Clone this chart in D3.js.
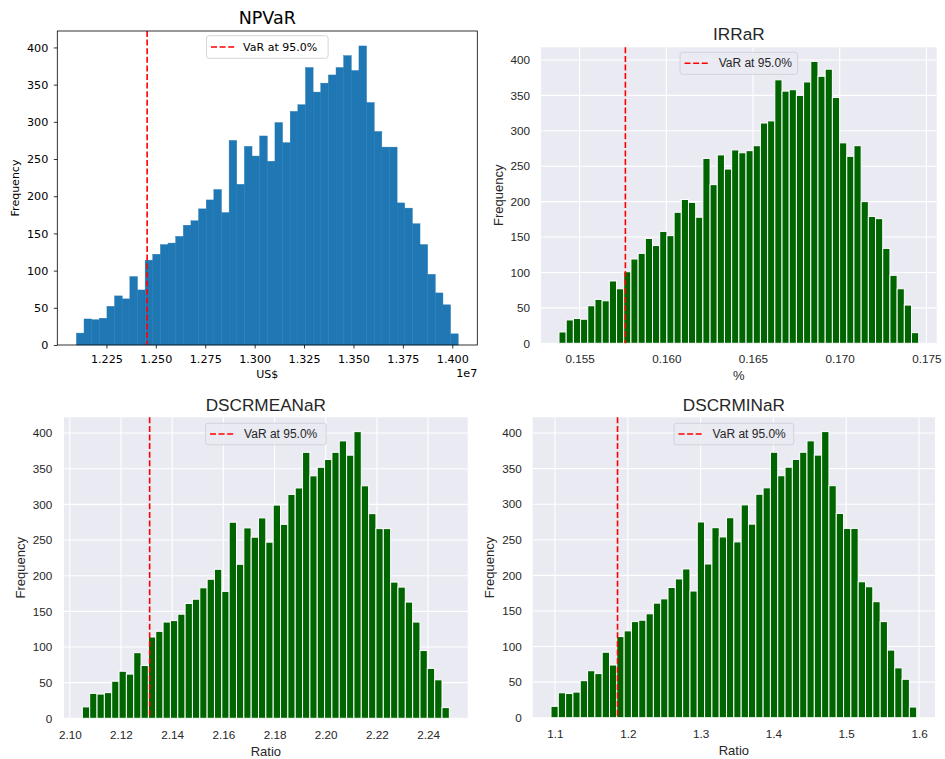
<!DOCTYPE html>
<html>
<head>
<meta charset="utf-8">
<script src="https://cdn.jsdelivr.net/npm/d3@7"></script>
<style>
  html, body { margin: 0; padding: 0; background: #ffffff; }
  svg { display: block; }
</style>
</head>
<body>
<svg id="chart" width="945" height="759"></svg>
<script>
// ---- Simulation histogram counts (50 bins each) ----
const npvCounts = [16, 35, 34, 36, 52, 66, 62, 92, 74, 114, 122, 135, 137, 146, 161, 167, 183, 195, 209, 178,
                   275, 216, 267, 254, 281, 247, 299, 272, 314, 323, 373, 340, 352, 363, 373, 389, 369, 402, 326, 287,
                   266, 266, 191, 184, 163, 135, 95, 70, 54, 15];
const irrCounts = [16, 33, 35, 34, 53, 62, 60, 88, 77, 101, 119, 127, 148, 138, 158, 152, 185, 203, 199, 178,
                   261, 224, 266, 246, 273, 269, 272, 279, 311, 314, 372, 356, 358, 350, 369, 398, 377, 387, 347, 283,
                   264, 279, 200, 179, 176, 134, 96, 77, 54, 15];
// DSCR outcomes are driven by the same draws as NPV, so the bin counts coincide
const dscrMeanCounts = npvCounts;
const dscrMinCounts = npvCounts;

// ---- Bin ranges (min, max of the simulated outcomes) ----
const npvRange = [1.2098e7, 1.4030e7];
const irrRange = [0.15381, 0.17456];
const dscrMeanRange = [2.1049, 2.2483];
const dscrMinRange = [1.0945, 1.5968];

// ---- Value at Risk (5th percentile) ----
const npvVaR = 1.2456e7;
const irrVaR = 0.15764;
const dscrMeanVaR = 2.1312;
const dscrMinVaR = 1.1859;

// ---- Tick values and labels ----
const npvTicks = [1.225e7, 1.250e7, 1.275e7, 1.300e7, 1.325e7, 1.350e7, 1.375e7, 1.400e7];
const npvTickLabels = ["1.225", "1.250", "1.275", "1.300", "1.325", "1.350", "1.375", "1.400"];
const irrTicks = [0.155, 0.160, 0.165, 0.170, 0.175];
const irrTickLabels = ["0.155", "0.160", "0.165", "0.170", "0.175"];
const dscrMeanTicks = [2.10, 2.12, 2.14, 2.16, 2.18, 2.20, 2.22, 2.24];
const dscrMeanTickLabels = ["2.10", "2.12", "2.14", "2.16", "2.18", "2.20", "2.22", "2.24"];
const dscrMinTicks = [1.1, 1.2, 1.3, 1.4, 1.5, 1.6];
const dscrMinTickLabels = ["1.1", "1.2", "1.3", "1.4", "1.5", "1.6"];
const freqTicks = [0, 50, 100, 150, 200, 250, 300, 350, 400];

const legendLabel = "VaR at 95.0%";

const svg = d3.select("#chart");

function drawPanel(p) {
  const g = svg.append("g");
  const n = p.counts.length;
  const [lo, hi] = p.range;
  const binW = (hi - lo) / n;
  const bins = p.counts.map((c, i) => ({ x0: lo + i * binW, x1: lo + (i + 1) * binW, c }));
  const pad = (hi - lo) * 0.05;
  const x = d3.scaleLinear().domain([lo - pad, hi + pad]).range([p.left, p.right]);
  const y = d3.scaleLinear().domain([0, d3.max(p.counts) * 1.05]).range([p.bottom, p.top]);
  const sea = p.style === "seaborn";
  const font = sea ? "'Liberation Sans', Arial, sans-serif" : "'DejaVu Sans', sans-serif";
  const textCol = sea ? "#262626" : "#000000";

  // plot background
  g.append("rect")
    .attr("x", p.left).attr("y", p.top)
    .attr("width", p.right - p.left).attr("height", p.bottom - p.top)
    .attr("fill", sea ? "#eaeaf2" : "#ffffff");

  if (sea) {
    // white grid behind bars
    const grid = g.append("g").attr("stroke", "#ffffff").attr("stroke-width", 1.1);
    p.ticks.forEach(t => grid.append("line")
      .attr("x1", x(t)).attr("x2", x(t)).attr("y1", p.top).attr("y2", p.bottom));
    freqTicks.forEach(t => grid.append("line")
      .attr("x1", p.left).attr("x2", p.right).attr("y1", y(t)).attr("y2", y(t)));
  }

  // histogram bars
  g.append("g").selectAll("rect").data(bins).join("rect")
    .attr("x", d => x(d.x0))
    .attr("width", d => x(d.x1) - x(d.x0))
    .attr("y", d => y(d.c))
    .attr("height", d => y(0) - y(d.c))
    .attr("fill", sea ? "#006400" : "#1f77b4")
    .attr("stroke", sea ? "#ffffff" : "#1f77b4")
    .attr("stroke-width", sea ? 1 : 0.4);

  // VaR marker
  g.append("line")
    .attr("x1", x(p.var)).attr("x2", x(p.var))
    .attr("y1", p.top).attr("y2", p.bottom)
    .attr("stroke", "#ff0000").attr("stroke-width", 1.6)
    .attr("stroke-dasharray", "6,2.6");

  // axes
  const xAxis = d3.axisBottom(x)
    .tickValues(p.ticks)
    .tickFormat((d, i) => p.tickLabels[i])
    .tickSizeOuter(0)
    .tickSize(sea ? 0 : 3.5)
    .tickPadding(sea ? p.xPad : 6.8);
  const yAxis = d3.axisLeft(y)
    .tickValues(freqTicks)
    .tickFormat(d3.format("d"))
    .tickSizeOuter(0)
    .tickSize(sea ? 0 : 3.5)
    .tickPadding(sea ? p.yPad : 5.5);

  const gx = g.append("g").attr("transform", `translate(0,${p.bottom})`).call(xAxis);
  const gy = g.append("g").attr("transform", `translate(${p.left},0)`).call(yAxis);
  [gx, gy].forEach(a => {
    a.select(".domain").remove();
    a.selectAll("text").attr("font-family", font).attr("font-size", p.tickFont).attr("fill", textCol);
    a.selectAll("line").attr("stroke", "#000000").attr("stroke-width", 0.8);
  });

  if (!sea) {
    // frame
    g.append("rect")
      .attr("x", p.left).attr("y", p.top)
      .attr("width", p.right - p.left).attr("height", p.bottom - p.top)
      .attr("fill", "none").attr("stroke", "#000000").attr("stroke-width", 0.8);
  }

  // title
  g.append("text")
    .attr("x", (p.left + p.right) / 2).attr("y", p.titleY)
    .attr("text-anchor", "middle")
    .attr("font-family", font).attr("font-size", p.titleFont)
    .attr("fill", textCol)
    .text(p.title);

  // axis labels
  g.append("text")
    .attr("x", (p.left + p.right) / 2).attr("y", p.xLabelY)
    .attr("text-anchor", "middle")
    .attr("font-family", font).attr("font-size", p.labelFont)
    .attr("fill", textCol)
    .text(p.xLabel);
  g.append("text")
    .attr("transform", `translate(${p.yLabelX},${(p.top + p.bottom) / 2}) rotate(-90)`)
    .attr("text-anchor", "middle")
    .attr("dy", "0.35em")
    .attr("font-family", font).attr("font-size", p.labelFont)
    .attr("fill", textCol)
    .text("Frequency");

  if (p.offsetText) {
    // axis offset multiplier, placed under the last tick label
    g.append("text")
      .attr("x", p.right).attr("y", p.bottom + 32)
      .attr("text-anchor", "end")
      .attr("font-family", font).attr("font-size", p.tickFont)
      .attr("fill", textCol)
      .text(p.offsetText);
  }

  // legend (upper center)
  const lw = p.legendW, lh = p.legendH;
  const lx = (p.left + p.right) / 2 - lw / 2;
  const ly = p.top + p.legendTop;
  const lg = g.append("g");
  lg.append("rect")
    .attr("x", lx).attr("y", ly).attr("width", lw).attr("height", lh)
    .attr("rx", 2.5)
    .attr("fill", sea ? "#eaeaf2" : "#ffffff").attr("fill-opacity", 0.85)
    .attr("stroke", sea ? "#d2d2da" : "#d6d6d6").attr("stroke-width", 1);
  lg.append("line")
    .attr("x1", lx + 4.5).attr("x2", lx + 28)
    .attr("y1", ly + lh / 2).attr("y2", ly + lh / 2)
    .attr("stroke", "#ff0000").attr("stroke-width", 1.6)
    .attr("stroke-dasharray", "6,2.6");
  lg.append("text")
    .attr("x", lx + p.legendTextX).attr("y", ly + lh / 2 + 4)
    .attr("font-family", font).attr("font-size", p.legendFont)
    .attr("fill", textCol)
    .text(legendLabel);
}

drawPanel({
  style: "mpl", title: "NPVaR", xLabel: "US$", offsetText: "1e7",
  counts: npvCounts, range: npvRange, var: npvVaR, ticks: npvTicks, tickLabels: npvTickLabels,
  left: 57.3, right: 477.3, top: 31, bottom: 345,
  titleY: 24, titleFont: 17.5, tickFont: 11.2, labelFont: 11, legendFont: 11,
  xLabelY: 377.5, yLabelX: 15,
  legendW: 121.6, legendH: 22.6, legendTop: 4.7, legendTextX: 36.6
});
drawPanel({
  style: "seaborn", title: "IRRaR", xLabel: "%",
  counts: irrCounts, range: irrRange, var: irrVaR, ticks: irrTicks, tickLabels: irrTickLabels,
  left: 541, right: 936.7, top: 47.3, bottom: 343.3,
  titleY: 40, titleFont: 17.2, tickFont: 11.7, labelFont: 13, legendFont: 12,
  xPad: 11.7, yPad: 11, xLabelY: 380, yLabelX: 498.3,
  legendW: 117.6, legendH: 22, legendTop: 5, legendTextX: 38.6
});
drawPanel({
  style: "seaborn", title: "DSCRMEANaR", xLabel: "Ratio",
  counts: dscrMeanCounts, range: dscrMeanRange, var: dscrMeanVaR, ticks: dscrMeanTicks, tickLabels: dscrMeanTickLabels,
  left: 64, right: 467.7, top: 417.3, bottom: 718.3,
  titleY: 410.7, titleFont: 17.2, tickFont: 11.7, labelFont: 13, legendFont: 12,
  xPad: 12.7, yPad: 11.7, xLabelY: 756, yLabelX: 20,
  legendW: 120.7, legendH: 21.5, legendTop: 6, legendTextX: 38.6
});
drawPanel({
  style: "seaborn", title: "DSCRMINaR", xLabel: "Ratio",
  counts: dscrMinCounts, range: dscrMinRange, var: dscrMinVaR, ticks: dscrMinTicks, tickLabels: dscrMinTickLabels,
  left: 532.7, right: 935, top: 417.3, bottom: 717.7,
  titleY: 410.7, titleFont: 17.2, tickFont: 11.7, labelFont: 13, legendFont: 12,
  xPad: 12.3, yPad: 11, xLabelY: 755, yLabelX: 489.3,
  legendW: 119.7, legendH: 21.5, legendTop: 6, legendTextX: 38.6
});
</script>
</body>
</html>
